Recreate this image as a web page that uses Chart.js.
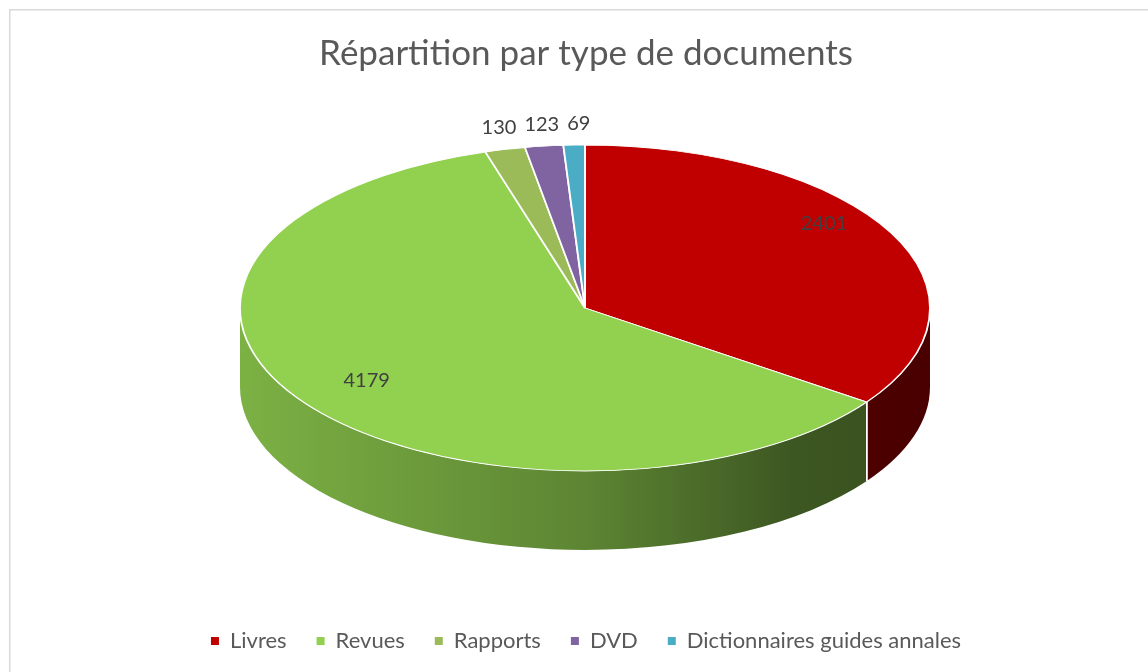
<!DOCTYPE html>
<html><head><meta charset="utf-8">
<script src="https://cdn.jsdelivr.net/npm/chart.js@4"></script>
<style>html,body{margin:0;padding:0;background:#fff}</style>
</head><body>
<canvas id="c" width="1148" height="672"></canvas>
<script>
const categories = ['Livres', 'Revues', 'Rapports', 'DVD', 'Dictionnaires guides annales'];
const values = [2401, 4179, 130, 123, 69];
const colors = ['#C00000', '#92D050', '#9BBB59', '#8064A2', '#4BACC6'];
const chartTitle = 'Répartition par type de documents';

// 3D view geometry (layout only)
const VIEW = {cx: 585, cy: 308, rx: 345, ry: 163, depth: 79};
const FONT = 'Lato';

function shade(hex, k) {
  const n = parseInt(hex.slice(1), 16);
  const r = (n >> 16) & 255, g = (n >> 8) & 255, b = n & 255;
  return 'rgb(' + Math.round(r * k) + ',' + Math.round(g * k) + ',' + Math.round(b * k) + ')';
}

const pie3d = {
  id: 'pie3d',
  beforeDraw(chart) {
    const {ctx, width, height} = chart;
    ctx.save();
    ctx.fillStyle = '#fff';
    ctx.fillRect(0, 0, width, height);
    ctx.strokeStyle = '#d9d9d9';
    ctx.lineWidth = 1.5;
    ctx.strokeRect(9.75, 9.75, width + 20, height + 20);
    ctx.restore();
  },
  beforeDatasetsDraw(chart) {
    const ctx = chart.ctx;
    const meta = chart.getDatasetMeta(0);
    const V = VIEW;
    meta.data.forEach((arc, i) => {
      const t0 = Math.max(arc.startAngle, 0), t1 = Math.min(arc.endAngle, Math.PI);
      if (t1 <= t0) return;
      const g = ctx.createLinearGradient(V.cx - V.rx, 0, V.cx + V.rx, 0);
      const c = colors[i];
      g.addColorStop(0, shade(c, 0.85));
      g.addColorStop(0.5, shade(c, 0.64));
      g.addColorStop(0.8, shade(c, 0.42));
      g.addColorStop(1, shade(c, 0.38));
      ctx.beginPath();
      ctx.ellipse(V.cx, V.cy, V.rx, V.ry, 0, t0, t1, false);
      ctx.ellipse(V.cx, V.cy + V.depth, V.rx, V.ry, 0, t1, t0, true);
      ctx.closePath();
      ctx.fillStyle = g;
      ctx.fill();
    });
    ctx.save();
    ctx.strokeStyle = '#fff';
    ctx.lineWidth = 1.5;
    meta.data.forEach(arc => {
      [arc.startAngle, arc.endAngle].forEach(a => {
        if (a > 0.01 && a < Math.PI - 0.01) {
          const x = V.cx + V.rx * Math.cos(a), y = V.cy + V.ry * Math.sin(a);
          ctx.beginPath(); ctx.moveTo(x, y); ctx.lineTo(x, y + V.depth); ctx.stroke();
        }
      });
    });
    ctx.restore();
    const a0 = meta.data[0];
    const R = a0.outerRadius;
    ctx.save();
    ctx.translate(V.cx, V.cy);
    ctx.scale(V.rx / R, V.ry / R);
    ctx.translate(-a0.x, -a0.y);
  },
  afterDatasetsDraw(chart) {
    const ctx = chart.ctx;
    ctx.restore();
    const meta = chart.getDatasetMeta(0);
    const V = VIEW;
    const total = values.reduce((a, b) => a + b, 0);
    ctx.save();
    ctx.font = '20px ' + FONT;
    ctx.fillStyle = '#404040';
    ctx.textAlign = 'center';
    ctx.textBaseline = 'middle';
    const outside = [];
    meta.data.forEach((arc, i) => {
      const m = (arc.startAngle + arc.endAngle) / 2;
      const c = Math.cos(m), s = Math.sin(m);
      const txt = String(values[i]);
      if (values[i] / total > 0.05) {
        ctx.fillText(txt, V.cx + 0.78 * V.rx * c, V.cy - 15 + 0.92 * V.ry * s);
      } else {
        outside.push({txt, x: V.cx + V.rx * c - 6, y: V.cy + V.ry * s - 22, w: ctx.measureText(txt).width});
      }
    });
    outside.sort((a, b) => a.x - b.x);
    for (let k = 1; k < outside.length; k++) {
      const p = outside[k - 1], q = outside[k];
      const min = (p.w + q.w) / 2 + 8;
      if (q.x - p.x < min) q.x = p.x + min;
    }
    outside.forEach(o => ctx.fillText(o.txt, o.x, o.y));
    ctx.restore();
  }
};

new Chart(document.getElementById('c'), {
  type: 'pie',
  data: {
    labels: categories,
    datasets: [{data: values, backgroundColor: colors, borderColor: '#ffffff', borderWidth: 1.4, clip: false}]
  },
  options: {
    responsive: false,
    animation: false,
    devicePixelRatio: 1,
    layout: {padding: {left: 24, right: 0, top: 0, bottom: 10}},
    plugins: {
      title: {display: true, text: chartTitle, color: '#595959', font: {family: FONT, size: 35, weight: 'normal'}, padding: {top: 33, bottom: 10}},
      legend: {
        position: 'bottom',
        labels: {
          color: '#595959', font: {family: FONT, size: 22}, boxWidth: 8, boxHeight: 8, padding: 30,
          generateLabels(chart) {
            return Chart.overrides.pie.plugins.legend.labels.generateLabels(chart)
              .map(l => Object.assign({}, l, {lineWidth: 0, strokeStyle: l.fillStyle}));
          }
        }
      },
      tooltip: {enabled: false}
    }
  },
  plugins: [pie3d]
});
</script>
</body></html>
